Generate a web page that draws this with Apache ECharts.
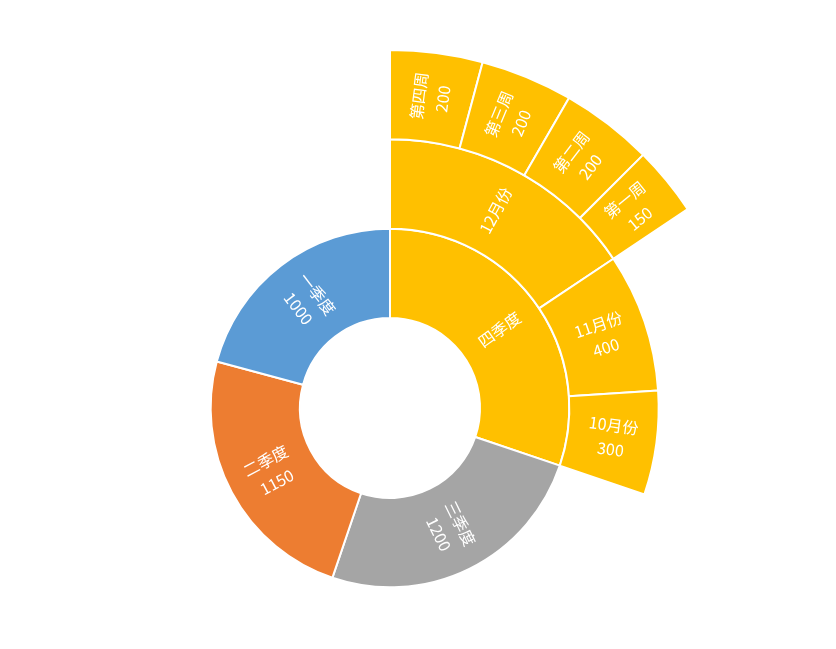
<!DOCTYPE html>
<html>
<head>
<meta charset="utf-8">
<script src="https://cdn.jsdelivr.net/npm/echarts@6/dist/echarts.min.js"></script>
<style>
html,body{margin:0;padding:0;background:#fff;}
#c{width:836px;height:649px;}
</style>
</head>
<body>
<div id="c"></div>
<script>
// Quarters (clockwise from 12 o'clock)
const quarterNames = ['四季度', '三季度', '二季度', '一季度'];
const quarterValues = [null, 1200, 1150, 1000];
const quarterColors = ['#FFC000', '#A5A5A5', '#ED7D31', '#5B9BD5'];
// Months of Q4
const monthNames = ['12月份', '11月份', '10月份'];
const monthValues = [null, 400, 300];
// Weeks of December
const weekNames = ['第四周', '第三周', '第二周', '第一周'];
const weekValues = [200, 200, 200, 150];

function leafOrParent(name, value, color, children) {
  const node = { name: name, itemStyle: { color: color } };
  if (children) node.children = children; else node.value = value;
  return node;
}

const q4Color = quarterColors[0];
const weeks = weekNames.map((n, i) => leafOrParent(n, weekValues[i], q4Color));
const months = monthNames.map((n, i) => leafOrParent(n, monthValues[i], q4Color, i === 0 ? weeks : null));
const data = quarterNames.map((n, i) => leafOrParent(n, quarterValues[i], quarterColors[i], i === 0 ? months : null));

const chart = echarts.init(document.getElementById('c'), null, { renderer: 'canvas' });
chart.setOption({
  animation: false,
  series: [{
    type: 'sunburst',
    center: [390, 408],
    radius: [90, 358],
    startAngle: 90,
    clockwise: true,
    sort: null,
    nodeClick: false,
    data: data,
    itemStyle: { borderColor: '#ffffff', borderWidth: 2 },
    emphasis: { disabled: true },
    label: {
      rotate: 'radial',
      color: '#ffffff',
      fontSize: 16,
      lineHeight: 24,
      fontFamily: '"Noto Sans CJK SC", "Noto Sans", sans-serif',
      formatter: function (p) {
        const d = p.data;
        return d.children ? p.name : p.name + '\n' + p.value;
      }
    }
  }]
});
</script>
</body>
</html>
